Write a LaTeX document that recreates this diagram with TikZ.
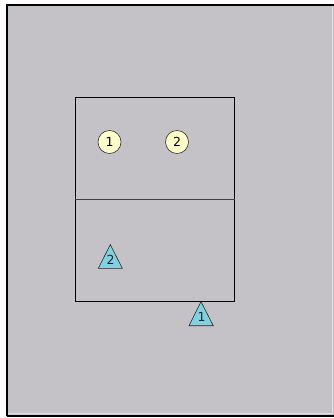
\documentclass[tikz,border=0pt]{standalone}
\usepackage{fontspec}
\setmainfont{DejaVu Sans}
\definecolor{bg}{RGB}{196,194,198}
\definecolor{pl}{RGB}{255,255,204}
\definecolor{tri}{RGB}{128,210,226}
\definecolor{lite}{RGB}{225,224,226}
\tikzset{
  px/.style={x=1pt,y=-1pt},
  court/.style={draw=black,line width=1pt},
  player/.style={circle,draw=black!80,fill=pl,line width=0.6pt,minimum size=23pt,inner sep=0pt,font=\fontsize{12.5}{12.5}\selectfont},
  tribox/.style={draw=black!85,fill=tri,line width=0.6pt,line join=miter},
  trilabel/.style={inner sep=0pt,font=\fontsize{12.5}{12.5}\selectfont,text=black!85}
}
\begin{document}
\begin{tikzpicture}[px]
\useasboundingbox (0,0) rectangle (334,418);
\fill[white] (0,0) rectangle (334,418);
\fill[bg] (7,5) rectangle (334,416);
\draw[line width=1.6pt,black] (7,416) -- (7,5) -- (334,5);
\draw[line width=1.2pt,black] (7,416) -- (334,416);
\draw[line width=1pt,lite] (332.5,6) -- (332.5,414);
\draw[line width=1pt,lite] (8,413.5) -- (332,413.5);
% court
\node[court,minimum width=159pt,minimum height=204pt,inner sep=0pt] (court) at (154.5,199) {};
\draw[line width=1pt,black!75] (court.west) -- (court.east);
% players
\node[player] (p1) at (109.5,142) {1};
\node[player] (p2) at (177,142) {2};
% triangles
\draw[tribox] (110.3,244.7) -- (98.3,268.3) -- (122.3,268.3) -- cycle;
\node[trilabel] (t2) at (110.5,260) {2};
\draw[tribox] (201,301.7) -- (189,325.7) -- (213.3,325.7) -- cycle;
\node[trilabel] (t1) at (201.5,317) {1};
\end{tikzpicture}
\end{document}
